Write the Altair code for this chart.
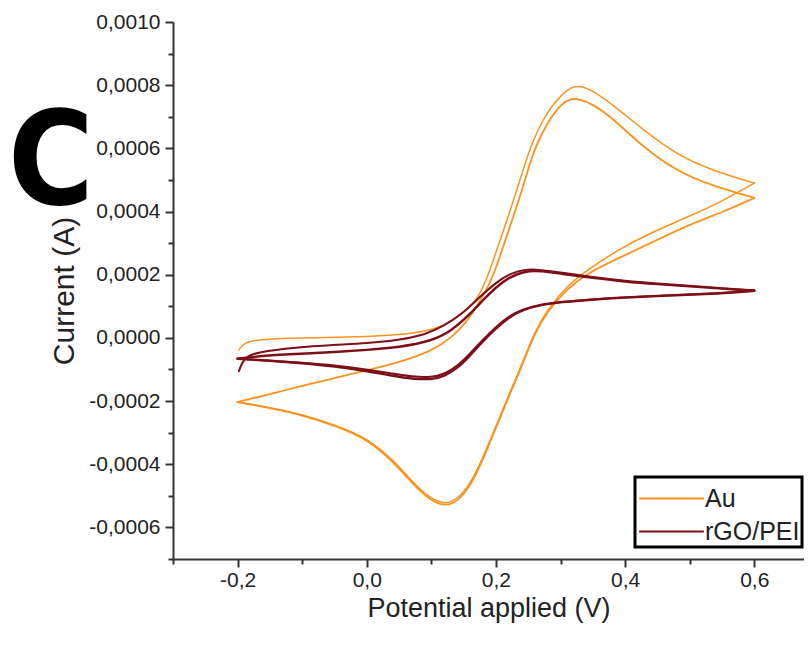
import altair as alt
import pandas as pd

panel_letter = "C"
x_title = "Potential applied (V)"
y_title = "Current (A)"
samples = ["Au", "rGO/PEI"]
colors = ["#f7931e", "#7c1016"]

# ---- Au, cycle 1 (outer trace) ----
au_c1_fwd_v = [-0.198, -0.19, -0.17, -0.12, -0.06, 0.0, 0.05, 0.097, 0.12, 0.14, 0.155, 0.17, 0.18,
               0.19, 0.205, 0.22, 0.235, 0.25, 0.265, 0.28, 0.295, 0.31, 0.322, 0.335, 0.35, 0.38,
               0.43, 0.48, 0.535, 0.6]
au_c1_fwd_i = [-0.38e-4, -0.15e-4, -0.06e-4, -0.01e-4, 0.01e-4, 0.04e-4, 0.09e-4, 0.23e-4, 0.4e-4,
               0.65e-4, 0.88e-4, 1.22e-4, 1.6e-4, 2.1e-4, 3.0e-4, 3.9e-4, 4.85e-4, 5.85e-4, 6.6e-4,
               7.15e-4, 7.55e-4, 7.85e-4, 7.97e-4, 7.95e-4, 7.82e-4, 7.4e-4, 6.55e-4, 5.8e-4, 5.3e-4,
               4.9e-4]
au_c1_rev_v = [0.6, 0.55, 0.5, 0.44, 0.39, 0.34, 0.31, 0.28, 0.26, 0.24, 0.22, 0.2, 0.18, 0.16,
               0.14, 0.123, 0.1, 0.07, 0.045, 0.0, -0.05, -0.1, -0.15, -0.2]
au_c1_rev_i = [4.9e-4, 4.32e-4, 3.85e-4, 3.33e-4, 2.8e-4, 2.13e-4, 1.65e-4, 0.9e-4, 0.2e-4, -0.85e-4,
               -1.8e-4, -2.8e-4, -3.78e-4, -4.65e-4, -5.1e-4, -5.27e-4, -5.12e-4, -4.55e-4, -3.95e-4,
               -3.15e-4, -2.75e-4, -2.42e-4, -2.2e-4, -2.03e-4]

# ---- Au, cycle 2 (inner trace) ----
au_c2_fwd_v = [-0.2, -0.15, -0.1, -0.05, 0.0, 0.05, 0.1, 0.13, 0.155, 0.175, 0.19, 0.2, 0.213,
               0.228, 0.243, 0.258, 0.273, 0.288, 0.3, 0.316, 0.33, 0.35, 0.38, 0.43, 0.48, 0.535, 0.6]
au_c2_fwd_i = [-2.03e-4, -1.78e-4, -1.52e-4, -1.27e-4, -1.03e-4, -0.78e-4, -0.42e-4, -0.02e-4, 0.5e-4,
               1.15e-4, 1.7e-4, 2.2e-4, 3.0e-4, 3.9e-4, 4.85e-4, 5.9e-4, 6.55e-4, 7.05e-4, 7.38e-4,
               7.59e-4, 7.55e-4, 7.4e-4, 6.97e-4, 6.0e-4, 5.28e-4, 4.81e-4, 4.43e-4]
au_c2_rev_v = [0.6, 0.55, 0.5, 0.44, 0.39, 0.34, 0.31, 0.28, 0.26, 0.24, 0.22, 0.2, 0.18, 0.16,
               0.14, 0.123, 0.1, 0.07, 0.045, 0.0, -0.05, -0.1, -0.15, -0.2]
au_c2_rev_i = [4.43e-4, 3.97e-4, 3.6e-4, 3.0e-4, 2.53e-4, 2.03e-4, 1.55e-4, 0.85e-4, 0.15e-4, -0.9e-4,
               -1.85e-4, -2.85e-4, -3.85e-4, -4.72e-4, -5.18e-4, -5.33e-4, -5.18e-4, -4.6e-4, -4.0e-4,
               -3.18e-4, -2.77e-4, -2.44e-4, -2.22e-4, -2.03e-4]

# ---- rGO/PEI, cycle 1 ----
rgo_c1_fwd_v = [-0.198, -0.19, -0.17, -0.11, -0.05, 0.0, 0.05, 0.09, 0.12, 0.15, 0.175, 0.2, 0.22,
                0.245, 0.27, 0.3, 0.35, 0.4, 0.45, 0.5, 0.55, 0.6]
rgo_c1_fwd_i = [-1.05e-4, -0.62e-4, -0.45e-4, -0.3e-4, -0.22e-4, -0.17e-4, -0.07e-4, 0.1e-4, 0.38e-4,
                0.8e-4, 1.3e-4, 1.75e-4, 2.02e-4, 2.18e-4, 2.15e-4, 2.07e-4, 1.92e-4, 1.8e-4, 1.72e-4,
                1.65e-4, 1.57e-4, 1.5e-4]
rgo_c1_rev_v = [0.6, 0.55, 0.45, 0.35, 0.3, 0.27, 0.24, 0.22, 0.2, 0.18, 0.16, 0.14, 0.12, 0.1,
                0.07, 0.04, 0.0, -0.05, -0.1, -0.15, -0.2]
rgo_c1_rev_i = [1.5e-4, 1.41e-4, 1.34e-4, 1.23e-4, 1.14e-4, 1.06e-4, 0.9e-4, 0.68e-4, 0.35e-4,
                -0.05e-4, -0.5e-4, -0.9e-4, -1.15e-4, -1.25e-4, -1.23e-4, -1.13e-4, -1.0e-4, -0.87e-4,
                -0.79e-4, -0.72e-4, -0.66e-4]

# ---- rGO/PEI, cycle 2 ----
rgo_c2_fwd_v = [-0.2, -0.16, -0.1, -0.05, 0.0, 0.05, 0.1, 0.13, 0.16, 0.18, 0.2, 0.22, 0.245,
                0.27, 0.3, 0.35, 0.4, 0.45, 0.5, 0.55, 0.6]
rgo_c2_fwd_i = [-0.66e-4, -0.56e-4, -0.5e-4, -0.45e-4, -0.38e-4, -0.3e-4, -0.1e-4, 0.2e-4, 0.75e-4,
                1.2e-4, 1.6e-4, 1.92e-4, 2.12e-4, 2.12e-4, 2.03e-4, 1.9e-4, 1.78e-4, 1.7e-4, 1.63e-4,
                1.56e-4, 1.49e-4]
rgo_c2_rev_v = [0.6, 0.55, 0.45, 0.35, 0.3, 0.27, 0.24, 0.22, 0.2, 0.18, 0.16, 0.14, 0.12, 0.1,
                0.07, 0.04, 0.0, -0.05, -0.1, -0.15, -0.2]
rgo_c2_rev_i = [1.49e-4, 1.4e-4, 1.33e-4, 1.22e-4, 1.13e-4, 1.05e-4, 0.88e-4, 0.65e-4, 0.3e-4,
                -0.1e-4, -0.56e-4, -0.97e-4, -1.22e-4, -1.32e-4, -1.3e-4, -1.2e-4, -1.05e-4, -0.9e-4,
                -0.8e-4, -0.72e-4, -0.66e-4]

segments = [
    ("Au", "1", "Au-1-fwd", au_c1_fwd_v, au_c1_fwd_i),
    ("Au", "1", "Au-1-rev", au_c1_rev_v, au_c1_rev_i),
    ("Au", "2", "Au-2-fwd", au_c2_fwd_v, au_c2_fwd_i),
    ("Au", "2", "Au-2-rev", au_c2_rev_v, au_c2_rev_i),
    ("rGO/PEI", "1", "rGO-1-fwd", rgo_c1_fwd_v, rgo_c1_fwd_i),
    ("rGO/PEI", "1", "rGO-1-rev", rgo_c1_rev_v, rgo_c1_rev_i),
    ("rGO/PEI", "2", "rGO-2-fwd", rgo_c2_fwd_v, rgo_c2_fwd_i),
    ("rGO/PEI", "2", "rGO-2-rev", rgo_c2_rev_v, rgo_c2_rev_i),
]
rows = []
for sample, cycle, seg, vs, cs in segments:
    for k, (v, c) in enumerate(zip(vs, cs)):
        rows.append({"sample": sample, "cycle": sample + cycle, "segment": seg, "k": k, "v": v, "i": c})
df = pd.DataFrame(rows)

x_ticks = [-0.3, -0.2, -0.1, 0.0, 0.1, 0.2, 0.3, 0.4, 0.5, 0.6]
y_ticks = [-0.0007, -0.0006, -0.0005, -0.0004, -0.0003, -0.0002, -0.0001, 0.0, 0.0001, 0.0002,
           0.0003, 0.0004, 0.0005, 0.0006, 0.0007, 0.0008, 0.0009, 0.0010]

FONT = "Liberation Sans"
AX = "#333333"

x_axis = alt.Axis(
    values=x_ticks,
    labelExpr="abs(round(datum.value*10)) % 2 == 0 ? replace(replace(format(datum.value, '.1f'), '.', ','), '\u2212', '-') : ''",
    tickSize={"condition": {"test": "abs(round(datum.value*10)) % 2 == 1", "value": 5}, "value": 8},
    grid=False, titlePadding=5, labelPadding=2, titleFontSize=27,
)
y_axis = alt.Axis(
    values=y_ticks,
    labelExpr="abs(round(datum.value*10000)) % 2 == 0 ? replace(replace(format(datum.value, '.4f'), '.', ','), '\u2212', '-') : ''",
    tickSize={"condition": {"test": "abs(round(datum.value*10000)) % 2 == 1", "value": 5}, "value": 8},
    grid=False, titlePadding=9, labelPadding=5, titleFontSize=30,
)

lines = alt.Chart(df).mark_line(interpolate="basis", strokeCap="round", strokeJoin="round").encode(
    x=alt.X("v:Q", title=x_title, scale=alt.Scale(domain=[-0.3, 0.677], nice=False, zero=False), axis=x_axis),
    y=alt.Y("i:Q", title=y_title, scale=alt.Scale(domain=[-0.0007, 0.0010], nice=False, zero=False), axis=y_axis),
    color=alt.Color("sample:N", scale=alt.Scale(domain=samples, range=colors),
                    legend=alt.Legend(title=None, orient="none", legendX=462, legendY=455,
                                      symbolType="M-1.75,0H1.75", symbolSize=1369,
                                      symbolStrokeWidth=2, symbolOffset=15, labelOffset=14,
                                      rowPadding=0, padding=2)),
    strokeWidth=alt.StrokeWidth("cycle:N", scale=alt.Scale(domain=["Au1", "Au2", "rGO/PEI1", "rGO/PEI2"],
                                                         range=[1.5, 2.4, 2.0, 2.0]), legend=None),
    detail="segment:N",
    order="k:Q",
)

letter = alt.Chart(pd.DataFrame({"t": [panel_letter]})).mark_text(
    font="DejaVu Sans Condensed", fontWeight="bold", fontSize=130, align="center",
    baseline="alphabetic", color="black"
).encode(text="t:N", x=alt.value(-122), y=alt.value(182))

chart = alt.layer(lines, letter).properties(
    width=631, height=537,
    autosize=alt.AutoSizeParams(type="none"),
    padding={"left": 165, "top": 14, "right": 0, "bottom": 76},
).configure_view(stroke=None).configure_axis(
    domainColor=AX, domainWidth=2, tickColor=AX, tickWidth=2,
    labelFont=FONT, labelFontSize=21, labelColor="#222222",
    titleFont=FONT, titleFontWeight="normal", titleColor="#222222",
).configure_legend(
    strokeColor="black", strokeWidth=3, labelFont=FONT, labelFontSize=25, labelColor="#222222",
)

chart.save("out.html", embed_options={"renderer": "svg", "actions": False})
